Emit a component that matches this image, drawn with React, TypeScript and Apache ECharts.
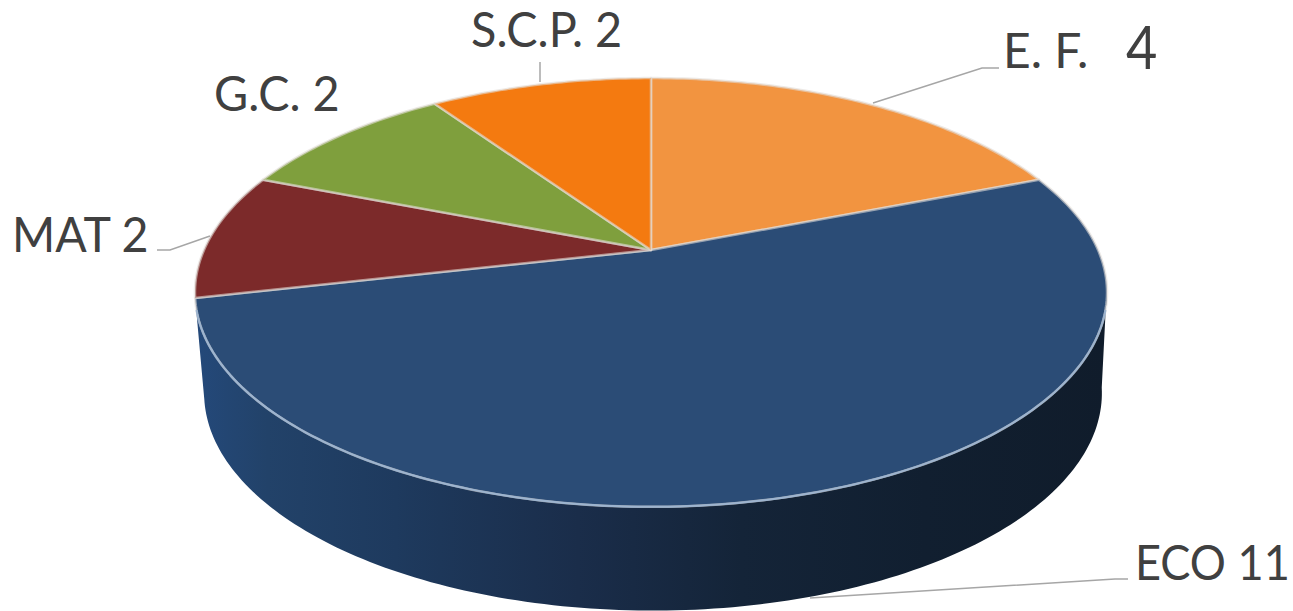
import React, { useEffect, useRef } from "react";
import * as echarts from "echarts";

const categories = ["E. F.", "ECO", "MAT", "G.C.", "S.C.P."];
const values = [4, 11, 2, 2, 2];
const topColors = ["#f29440", "#2b4c76", "#7c2a2a", "#7f9f3d", "#f47a10"];

// label layout, kept apart from the data
const labelTexts = ["E. F.", "4", "ECO 11", "MAT 2", "G.C. 2", "S.C.P. 2"];
const labelOwners = [0, 0, 1, 2, 3, 4];
const labelBoxes = [
  { x: 1003, y: 49, size: 48, sx: 1.0 },
  { x: 1126, y: 46, size: 60, sx: 0.9 },
  { x: 1135, y: 561, size: 48, sx: 0.94 },
  { x: 12, y: 233, size: 48, sx: 0.97 },
  { x: 214, y: 92, size: 48, sx: 0.975 },
  { x: 471, y: 28, size: 48, sx: 0.975 },
];
const leaderLines = [
  [[873, 103], [982, 68], [999, 68]],
  [[810, 598], [1115, 579], [1128, 579]],
  [[157, 250], [170, 250], [210, 236]],
  [],
  [[540, 62], [540, 82]],
];

// perspective disc: top rim and bottom rim of the pie
const K = 0.198;
const topRim = { cx: 651, cy: 250, R: 447, H: 206 };
const bottomRim = { cx: 653, cy: 350, R: 440, H: 209 };

const total = values.reduce((a, b) => a + b, 0);
const rows = values.map((v, i) => [v, values.slice(0, i).reduce((a, b) => a + b, 0)]);

function project(rim: typeof topRim, deg: number): number[] {
  const t = (deg * Math.PI) / 180;
  const u = Math.sin(t);
  const v = Math.cos(t);
  const w = 1 + K * v;
  return [rim.cx + (rim.R * u) / w, rim.cy - (rim.H * v) / w];
}

function arc(rim: typeof topRim, from: number, to: number): number[][] {
  const n = Math.max(8, Math.ceil(Math.abs(to - from)));
  const pts: number[][] = [];
  for (let i = 0; i <= n; i++) pts.push(project(rim, from + ((to - from) * i) / n));
  return pts;
}

function renderItem(params: any, api: any) {
  const i = params.dataIndex;
  const value = api.value(0);
  const before = api.value(1);
  const a0 = (before / total) * 360;
  const a1 = ((before + value) / total) * 360;
  const children: any[] = [];
  const edge = "rgba(225,220,215,0.6)";

  if (a1 - a0 > 180) {
    // the visible wall of the big slice
    const wallTop = arc(topRim, Math.max(a0, 100), Math.min(a1, 259));
    const wallBottom = arc(bottomRim, Math.min(a1, 259), Math.max(a0, 100));
    children.push({
      type: "polygon",
      shape: { points: wallTop.concat(wallBottom) },
      style: {
        fill: new echarts.graphic.LinearGradient(0, 0, 1, 0, [
          { offset: 0, color: "#24497a" },
          { offset: 0.08, color: "#224269" },
          { offset: 0.22, color: "#1e3a5e" },
          { offset: 0.42, color: "#1a2d4a" },
          { offset: 0.6, color: "#142438" },
          { offset: 0.8, color: "#111f30" },
          { offset: 1, color: "#101c2b" },
        ]),
      },
    });
  }

  const apex = [topRim.cx, topRim.cy];
  children.push({
    type: "polygon",
    shape: { points: [apex].concat(arc(topRim, a0, a1)) },
    style: { fill: topColors[i], stroke: edge, lineWidth: 2.5, lineJoin: "round" },
  });

  if (a1 - a0 > 180) {
    children.push({
      type: "polyline",
      shape: { points: arc(topRim, 106, 254) },
      style: { fill: "none", stroke: "#9db4cf", lineWidth: 2 },
    });
  }

  if (leaderLines[i].length) {
    children.push({
      type: "polyline",
      shape: { points: leaderLines[i] },
      style: { fill: "none", stroke: "#a6a6a6", lineWidth: 1.5 },
    });
  }

  labelOwners.forEach((owner, j) => {
    if (owner !== i) return;
    const b = labelBoxes[j];
    children.push({
      type: "text",
      x: b.x,
      y: b.y,
      scaleX: b.sx,
      style: {
        text: labelTexts[j],
        fontFamily: "Lato",
        fontSize: b.size,
        fill: "#404040",
        textAlign: "left",
        textVerticalAlign: "middle",
      },
    });
  });

  return { type: "group", children };
}

export default function App() {
  const ref = useRef<HTMLDivElement>(null);
  useEffect(() => {
    const chart = echarts.init(ref.current, undefined, { renderer: "svg" });
    chart.setOption({
      animation: false,
      backgroundColor: "#ffffff",
      series: [
        {
          type: "custom",
          coordinateSystem: "none",
          name: categories.join(", "),
          data: rows,
          renderItem,
          silent: true,
          clip: false,
        },
      ],
    });
    return () => chart.dispose();
  }, []);
  return (
    <div
      ref={ref}
      style={{ position: "fixed", left: 0, top: 0, width: 1293, height: 611 }}
    />
  );
}
